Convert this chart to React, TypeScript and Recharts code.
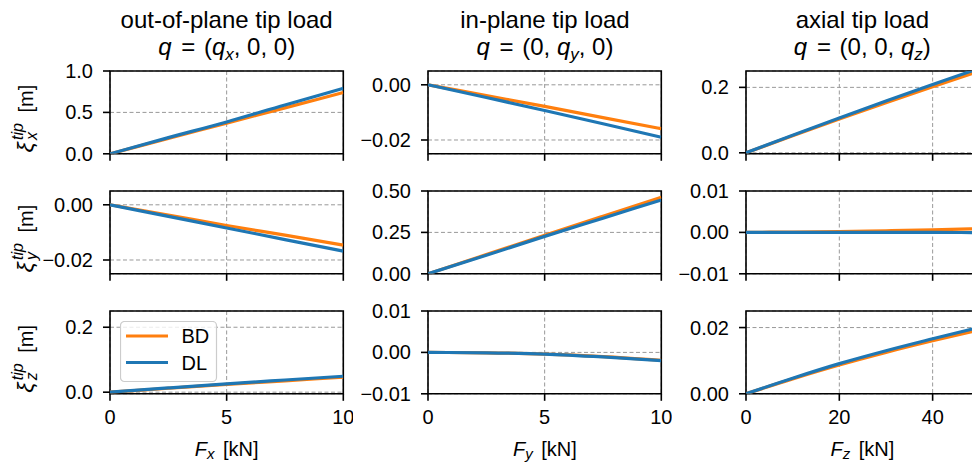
import { LineChart, Line, XAxis, YAxis, CartesianGrid, ReferenceArea, Legend } from "recharts";

// load steps [kN]
const F_XY = [0, 2.5, 5, 7.5, 10];
const F_Z = [0, 10, 20, 30, 40, 50];

// tip displacement [m], BD = BeamDyn, DL = reference
const XI_X_FX_BD = [0, 0.185, 0.37, 0.555, 0.74];
const XI_X_FX_DL = [0, 0.195, 0.385, 0.59, 0.79];
const XI_X_FY_BD = [0, -0.0039, -0.0078, -0.0119, -0.0159];
const XI_X_FY_DL = [0, -0.0046, -0.0093, -0.0141, -0.019];
const XI_X_FZ_BD = [0, 0.052, 0.103, 0.153, 0.202, 0.25];
const XI_X_FZ_DL = [0, 0.054, 0.1065, 0.158, 0.209, 0.258];

const XI_Y_FX_BD = [0, -0.0037, -0.0075, -0.011, -0.0146];
const XI_Y_FX_DL = [0, -0.0042, -0.0084, -0.0126, -0.0168];
const XI_Y_FY_BD = [0, 0.116, 0.233, 0.348, 0.462];
const XI_Y_FY_DL = [0, 0.112, 0.226, 0.336, 0.446];
const XI_Y_FZ_BD = [0, 0.0001, 0.0002, 0.0004, 0.0006, 0.0009];
const XI_Y_FZ_DL = [0, 0, 0, 0, 0, -0.00005];

const XI_Z_FX_BD = [0, 0.012, 0.024, 0.035, 0.046];
const XI_Z_FX_DL = [0, 0.013, 0.0257, 0.0375, 0.049];
const XI_Z_FY_BD = [0, -0.0001, -0.0004, -0.001, -0.0019];
const XI_Z_FY_DL = [0, -0.0001, -0.0004, -0.0011, -0.002];
const XI_Z_FZ_BD = [0, 0.0045, 0.0087, 0.0125, 0.016, 0.0193];
const XI_Z_FZ_DL = [0, 0.0047, 0.0091, 0.013, 0.0166, 0.0201];

const TITLES = ["out-of-plane tip load", "in-plane tip load", "axial tip load"];
const LOAD_SUB = ["x", "y", "z"];
const SERIES = [
  { key: "bd", name: "BD", color: "#ff7f0e" },
  { key: "dl", name: "DL", color: "#1f77b4" },
];

const X_TICKS_XY = [0, 5, 10];
const X_TICKS_Z = [0, 20, 40];

type Panel = {
  f: number[];
  bd: number[];
  dl: number[];
  xDomain: [number, number];
  xTicks: number[];
  yDomain: [number, number];
  yTicks: number[];
  dec: number;
};

const PANELS: Panel[][] = [
  [
    { f: F_XY, bd: XI_X_FX_BD, dl: XI_X_FX_DL, xDomain: [0, 10], xTicks: X_TICKS_XY, yDomain: [0, 1], yTicks: [0, 0.5, 1], dec: 1 },
    { f: F_XY, bd: XI_X_FY_BD, dl: XI_X_FY_DL, xDomain: [0, 10], xTicks: X_TICKS_XY, yDomain: [-0.025, 0.005], yTicks: [-0.02, 0], dec: 2 },
    { f: F_Z, bd: XI_X_FZ_BD, dl: XI_X_FZ_DL, xDomain: [0, 50], xTicks: X_TICKS_Z, yDomain: [-0.003, 0.25], yTicks: [0, 0.2], dec: 1 },
  ],
  [
    { f: F_XY, bd: XI_Y_FX_BD, dl: XI_Y_FX_DL, xDomain: [0, 10], xTicks: X_TICKS_XY, yDomain: [-0.025, 0.005], yTicks: [-0.02, 0], dec: 2 },
    { f: F_XY, bd: XI_Y_FY_BD, dl: XI_Y_FY_DL, xDomain: [0, 10], xTicks: X_TICKS_XY, yDomain: [0, 0.5], yTicks: [0, 0.25, 0.5], dec: 2 },
    { f: F_Z, bd: XI_Y_FZ_BD, dl: XI_Y_FZ_DL, xDomain: [0, 50], xTicks: X_TICKS_Z, yDomain: [-0.01, 0.01], yTicks: [-0.01, 0, 0.01], dec: 2 },
  ],
  [
    { f: F_XY, bd: XI_Z_FX_BD, dl: XI_Z_FX_DL, xDomain: [0, 10], xTicks: X_TICKS_XY, yDomain: [-0.005, 0.25], yTicks: [0, 0.2], dec: 1 },
    { f: F_XY, bd: XI_Z_FY_BD, dl: XI_Z_FY_DL, xDomain: [0, 10], xTicks: X_TICKS_XY, yDomain: [-0.01, 0.01], yTicks: [-0.01, 0, 0.01], dec: 2 },
    { f: F_Z, bd: XI_Z_FZ_BD, dl: XI_Z_FZ_DL, xDomain: [0, 50], xTicks: X_TICKS_Z, yDomain: [0, 0.025], yTicks: [0, 0.02], dec: 2 },
  ],
];

// layout (plot-area boxes in page pixels)
const COLS = [110, 428.3, 745.7];
const ROWS = [70.7, 190.7, 311];
const W = 233.3;
const H = 82.8;
const ML = 100;
const MT = 10;
const MR = 10;
const MB = 40;

const FONT = '"Liberation Sans", Arial, Helvetica, sans-serif';
const TICK = { fontSize: 20, fill: "#000", fontFamily: FONT };
const TICK_LINE = { stroke: "#000", strokeWidth: 1.6 };

function fmt(dec: number) {
  return (v: number) => {
    const s = Math.abs(v).toFixed(dec);
    return v < -1e-12 ? `\u2212${s}` : s;
  };
}

function LegendBox({ payload }: any) {
  const items =
    payload && payload.length
      ? payload.map((p: any) => ({ name: p.value, color: p.color }))
      : SERIES.map((s) => ({ name: s.name, color: s.color }));
  return (
    <svg width={98} height={62} style={{ display: "block" }}>
      <rect x={0.5} y={0.5} width={96} height={60} rx={4} fill="#fff" fillOpacity={0.8} stroke="#ccc" strokeWidth={1.2} />
      {items.map((it: any, i: number) => (
        <g key={it.name}>
          <line x1={6} x2={48} y1={15 + i * 26.6} y2={15 + i * 26.6} stroke={it.color} strokeWidth={3} />
          <text x={61.5} y={15 + i * 26.6 + 7} fontSize={20} fontFamily={FONT} fill="#000">
            {it.name}
          </text>
        </g>
      ))}
    </svg>
  );
}

function PanelChart({ p, r, c }: { p: Panel; r: number; c: number }) {
  const data = p.f.map((f, i) => ({ f, bd: p.bd[i], dl: p.dl[i] }));
  const bottom = r === 2;
  return (
    <div style={{ position: "absolute", left: COLS[c] - ML, top: ROWS[r] - MT }}>
      <LineChart width={W + ML + MR} height={H + MT + MB} data={data} margin={{ top: MT, right: MR, left: 0, bottom: 0 }}>
        <CartesianGrid stroke="#999" strokeWidth={1} strokeDasharray="4 2.5" />
        <XAxis
          dataKey="f"
          type="number"
          domain={p.xDomain}
          ticks={p.xTicks}
          allowDataOverflow
          height={MB}
          axisLine={false}
          tickLine={TICK_LINE}
          tickSize={7}
          tickMargin={9}
          tick={TICK}
          tickFormatter={bottom ? (v: number) => String(v) : () => ""}
          interval={0}
        />
        <YAxis
          type="number"
          domain={p.yDomain}
          ticks={p.yTicks}
          allowDataOverflow
          width={ML}
          axisLine={false}
          tickLine={TICK_LINE}
          tickSize={7}
          tickMargin={10}
          tick={TICK}
          tickFormatter={fmt(p.dec)}
          interval={0}
        />
        {SERIES.map((s) => (
          <Line
            key={s.key}
            type="monotone"
            dataKey={s.key}
            name={s.name}
            stroke={s.color}
            strokeWidth={3.2}
            dot={false}
            activeDot={false}
            isAnimationActive={false}
          />
        ))}
        <ReferenceArea
          x1={p.xDomain[0]}
          x2={p.xDomain[1]}
          y1={p.yDomain[0]}
          y2={p.yDomain[1]}
          fill="none"
          fillOpacity={0}
          stroke="#000"
          strokeWidth={1.6}
          ifOverflow="visible"
        />
        {r === 2 && c === 0 && (
          <Legend
            layout="vertical"
            align="center"
            verticalAlign="middle"
            content={<LegendBox />}
            wrapperStyle={{ position: "absolute", left: ML + 10, top: MT + 9.7, width: 98, height: 62 }}
          />
        )}
      </LineChart>
    </div>
  );
}

function Labels() {
  return (
    <svg width={972} height={463} style={{ position: "absolute", left: 0, top: 0, pointerEvents: "none" }} fontFamily={FONT} fill="#000">
      {TITLES.map((t, c) => {
        const cx = COLS[c] + W / 2;
        const parts = LOAD_SUB.map((s, i) => (i === c ? s : null));
        return (
          <g key={t}>
            <text x={cx} y={28} fontSize={24} textAnchor="middle">
              {t}
            </text>
            <text x={cx} y={55} fontSize={24} textAnchor="middle">
              <tspan fontStyle="italic">q</tspan>
              <tspan dx={3}>{" = "}</tspan>
              <tspan dx={2}>(</tspan>
              {parts.map((s, i) => (
                <tspan key={i}>
                  {s ? (
                    <>
                      <tspan fontStyle="italic">q</tspan>
                      <tspan fontStyle="italic" fontSize={17} dy={5}>
                        {s}
                      </tspan>
                      <tspan dy={-5}>{i < 2 ? ", " : ")"}</tspan>
                    </>
                  ) : (
                    <tspan>{i < 2 ? "0, " : "0)"}</tspan>
                  )}
                </tspan>
              ))}
            </text>
          </g>
        );
      })}
      {LOAD_SUB.map((s, c) => (
        <text key={s} x={COLS[c] + W / 2} y={455.5} fontSize={20} textAnchor="middle">
          <tspan fontStyle="italic">F</tspan>
          <tspan fontStyle="italic" fontSize={15} dy={3.5}>
            {s}
          </tspan>
          <tspan dy={-3.5} dx={3}>
            {" [kN]"}
          </tspan>
        </text>
      ))}
      {LOAD_SUB.map((s, r) => (
        <g key={s} transform={`translate(33, ${ROWS[r] + H - 1}) rotate(-90)`}>
          <text x={0} y={0} fontSize={23} fontStyle="italic">
            ξ
          </text>
          <text x={12.5} y={-10} fontSize={16} fontStyle="italic">
            tip
          </text>
          <text x={12.5} y={4} fontSize={16} fontStyle="italic">
            {s}
          </text>
          <text x={40} y={0} fontSize={20}>
            [m]
          </text>
        </g>
      ))}
    </svg>
  );
}

export default function App() {
  return (
    <div
      style={{
        position: "absolute",
        left: 0,
        top: 0,
        width: 972,
        height: 463,
        overflow: "hidden",
        background: "#fff",
      }}
    >
      {PANELS.map((row, r) => row.map((p, c) => <PanelChart key={`${r}-${c}`} p={p} r={r} c={c} />))}
      <Labels />
    </div>
  );
}
